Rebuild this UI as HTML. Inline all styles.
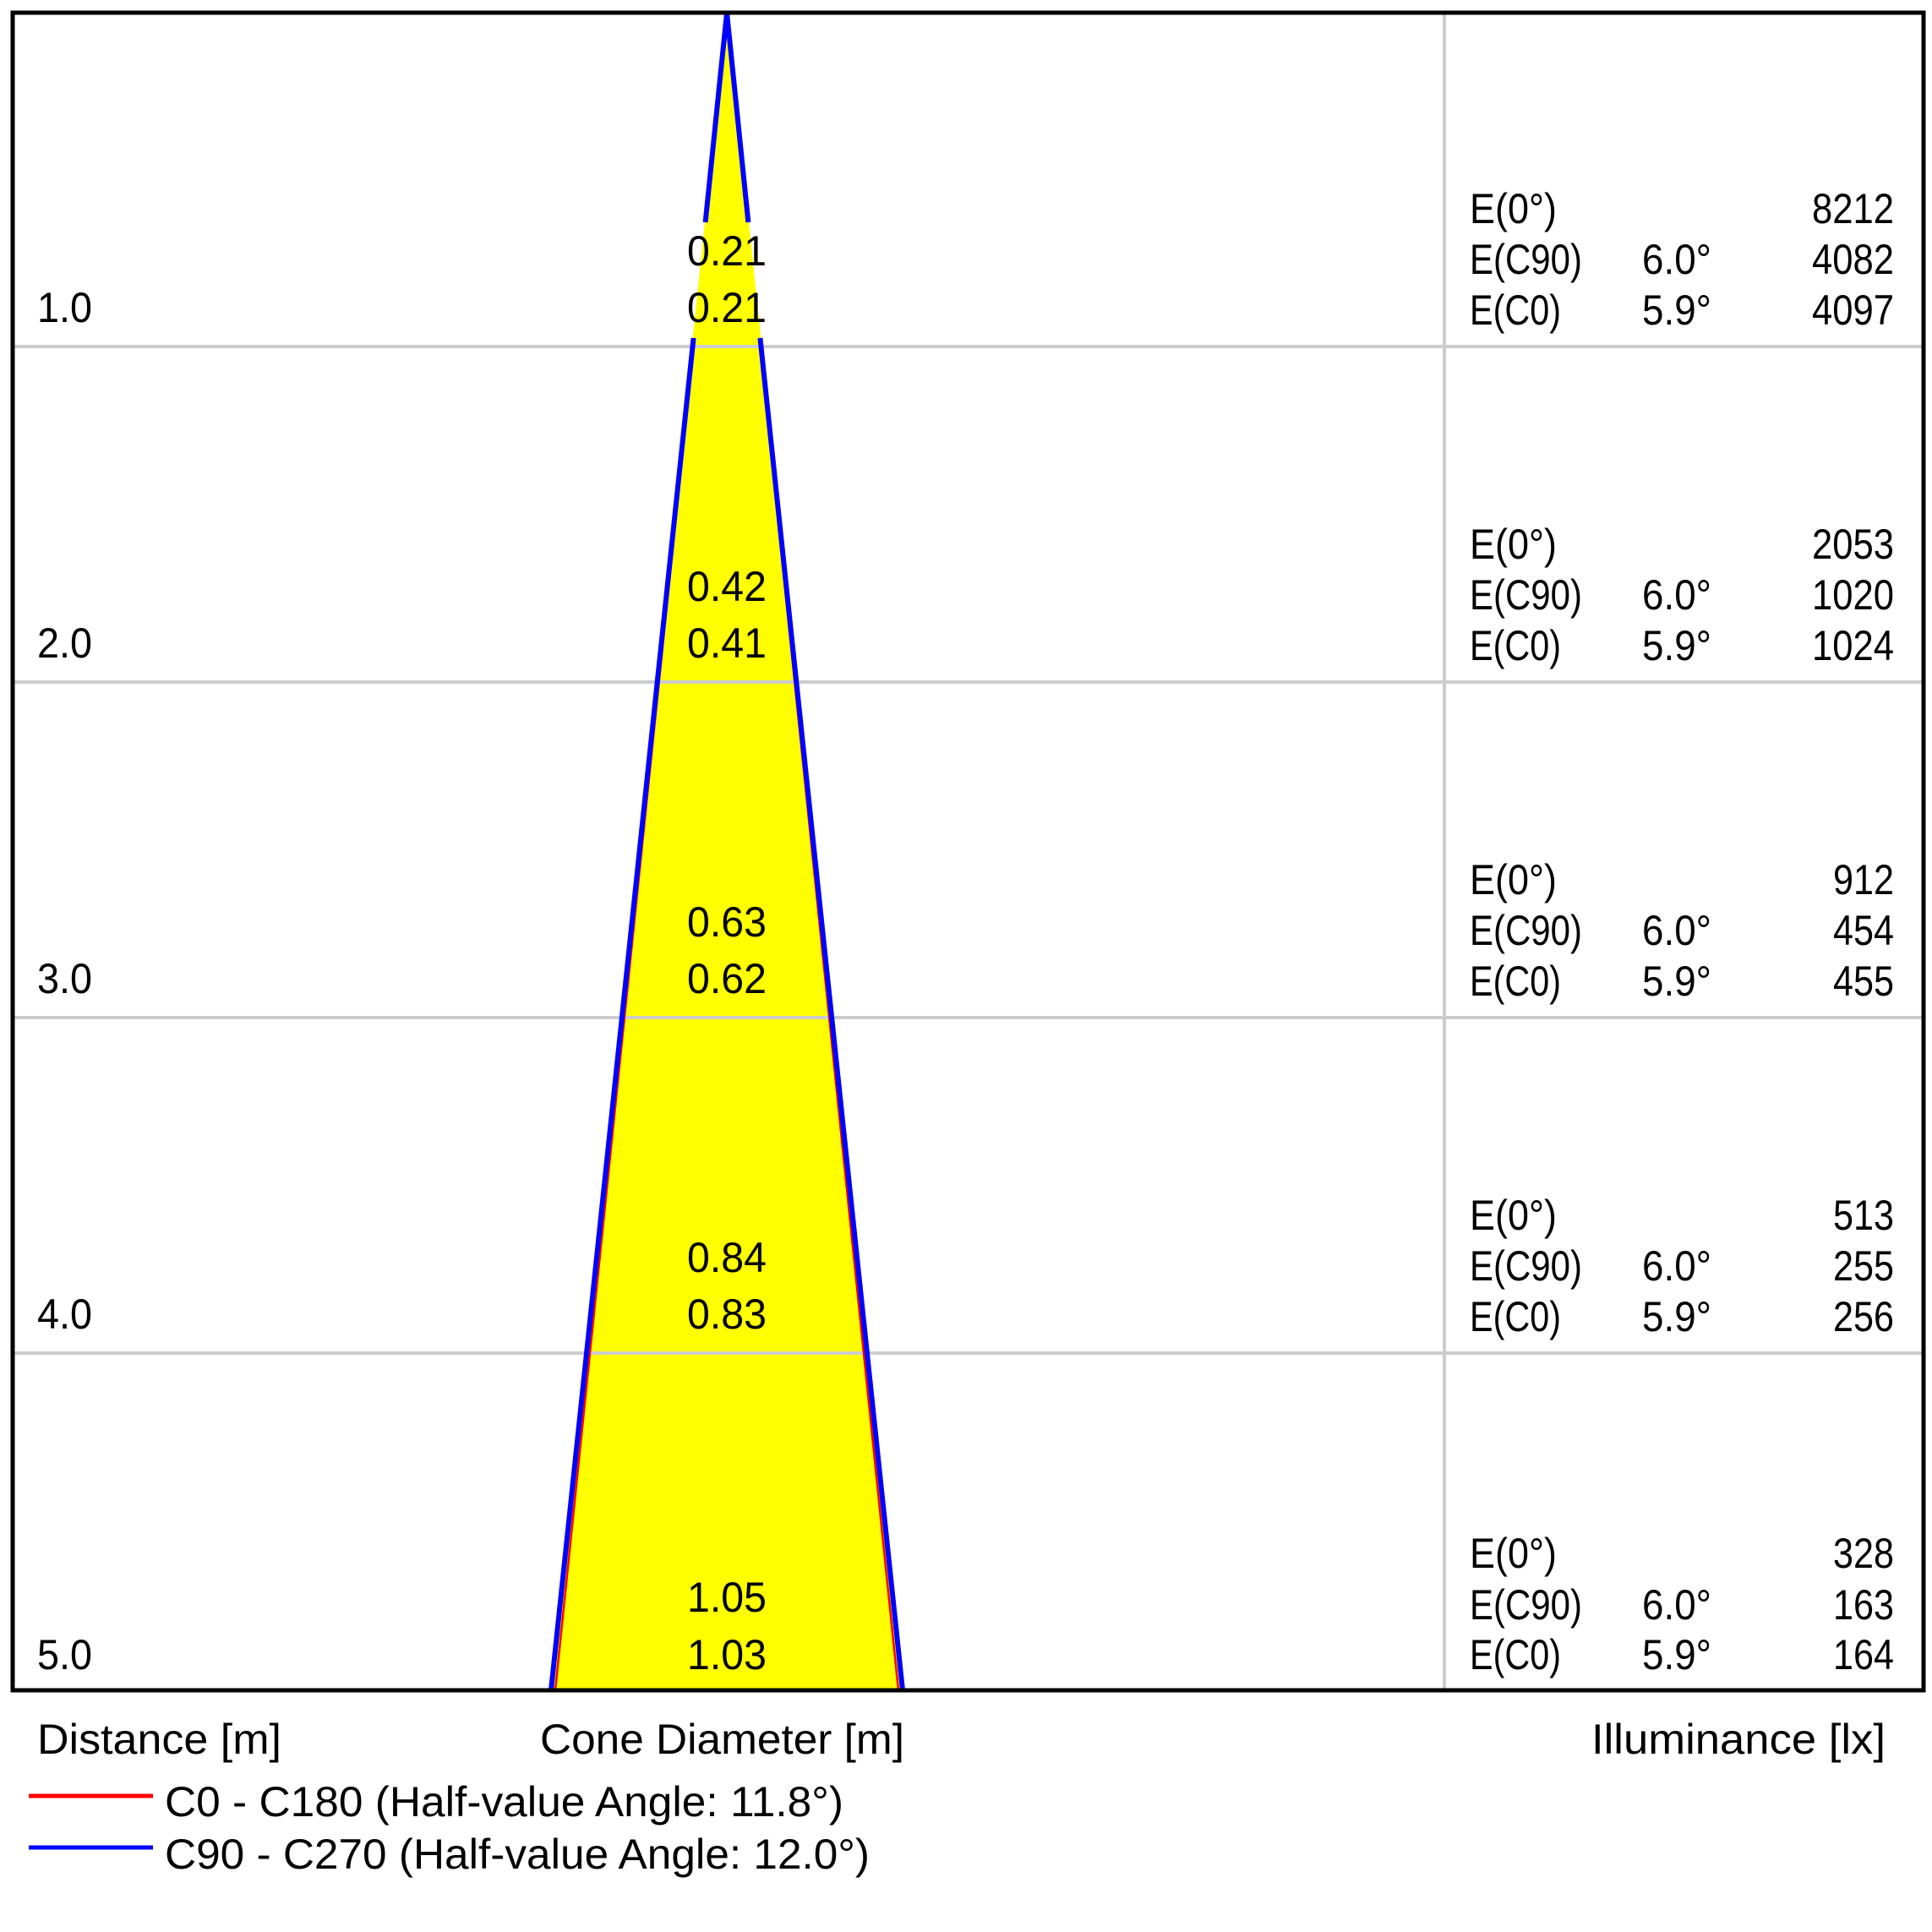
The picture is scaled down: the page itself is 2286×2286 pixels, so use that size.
<!DOCTYPE html>
<html><head><meta charset="utf-8"><style>
html,body{margin:0;padding:0;background:#fff;}
svg{display:block;}
text{font-family:"Liberation Sans",sans-serif;font-size:50px;fill:#000;}
</style></head><body>
<svg width="2286" height="2286" viewBox="0 0 2286 2286" xmlns="http://www.w3.org/2000/svg">
<rect width="2286" height="2286" fill="#fff"/>
<polygon points="860,15 652,2000 1068,2000" fill="#ffff00"/>
<g stroke="#cccccc" stroke-width="4">
<line x1="15" y1="410" x2="2276" y2="410"/>
<line x1="15" y1="807" x2="2276" y2="807"/>
<line x1="15" y1="1204" x2="2276" y2="1204"/>
<line x1="15" y1="1601" x2="2276" y2="1601"/>
<line x1="1709" y1="15" x2="1709" y2="2000"/>
</g>
<g fill="none">
<g stroke="#ff0000" stroke-width="2.5">
<line x1="821.6" y1="400" x2="657" y2="2000"/>
<line x1="898.4" y1="400" x2="1063" y2="2000"/>
</g>
<g stroke="#0000ff" stroke-width="6">
<line x1="860" y1="15" x2="834.6" y2="263"/>
<line x1="820.6" y1="400" x2="652" y2="2000"/>
<line x1="860" y1="15" x2="885.4" y2="263"/>
<line x1="899.4" y1="400" x2="1068" y2="2000"/>
</g>
</g>
<rect x="15" y="15" width="2261" height="1985" fill="none" stroke="#000" stroke-width="5"/>
<g text-anchor="middle">
<text x="860" y="314" textLength="94" lengthAdjust="spacingAndGlyphs">0.21</text>
<text x="860" y="381" textLength="94" lengthAdjust="spacingAndGlyphs">0.21</text>
<text x="860" y="711" textLength="94" lengthAdjust="spacingAndGlyphs">0.42</text>
<text x="860" y="778" textLength="94" lengthAdjust="spacingAndGlyphs">0.41</text>
<text x="860" y="1108" textLength="94" lengthAdjust="spacingAndGlyphs">0.63</text>
<text x="860" y="1175" textLength="94" lengthAdjust="spacingAndGlyphs">0.62</text>
<text x="860" y="1505" textLength="94" lengthAdjust="spacingAndGlyphs">0.84</text>
<text x="860" y="1572" textLength="94" lengthAdjust="spacingAndGlyphs">0.83</text>
<text x="860" y="1907" textLength="94" lengthAdjust="spacingAndGlyphs">1.05</text>
<text x="860" y="1975" textLength="94" lengthAdjust="spacingAndGlyphs">1.03</text>
</g>
<g>
<text x="44" y="381" textLength="65" lengthAdjust="spacingAndGlyphs">1.0</text>
<text x="44" y="778" textLength="65" lengthAdjust="spacingAndGlyphs">2.0</text>
<text x="44" y="1175" textLength="65" lengthAdjust="spacingAndGlyphs">3.0</text>
<text x="44" y="1572" textLength="65" lengthAdjust="spacingAndGlyphs">4.0</text>
<text x="44" y="1975" textLength="65" lengthAdjust="spacingAndGlyphs">5.0</text>
</g>
<g>
<text x="1739" y="264" textLength="103" lengthAdjust="spacingAndGlyphs">E(0°)</text>
<text x="1739" y="324" textLength="133" lengthAdjust="spacingAndGlyphs">E(C90)</text>
<text x="1739" y="384" textLength="108" lengthAdjust="spacingAndGlyphs">E(C0)</text>
<text x="1943" y="324" textLength="82" lengthAdjust="spacingAndGlyphs">6.0°</text>
<text x="1943" y="384" textLength="82" lengthAdjust="spacingAndGlyphs">5.9°</text>
<text x="1739" y="661" textLength="103" lengthAdjust="spacingAndGlyphs">E(0°)</text>
<text x="1739" y="721" textLength="133" lengthAdjust="spacingAndGlyphs">E(C90)</text>
<text x="1739" y="781" textLength="108" lengthAdjust="spacingAndGlyphs">E(C0)</text>
<text x="1943" y="721" textLength="82" lengthAdjust="spacingAndGlyphs">6.0°</text>
<text x="1943" y="781" textLength="82" lengthAdjust="spacingAndGlyphs">5.9°</text>
<text x="1739" y="1058" textLength="103" lengthAdjust="spacingAndGlyphs">E(0°)</text>
<text x="1739" y="1118" textLength="133" lengthAdjust="spacingAndGlyphs">E(C90)</text>
<text x="1739" y="1178" textLength="108" lengthAdjust="spacingAndGlyphs">E(C0)</text>
<text x="1943" y="1118" textLength="82" lengthAdjust="spacingAndGlyphs">6.0°</text>
<text x="1943" y="1178" textLength="82" lengthAdjust="spacingAndGlyphs">5.9°</text>
<text x="1739" y="1455" textLength="103" lengthAdjust="spacingAndGlyphs">E(0°)</text>
<text x="1739" y="1515" textLength="133" lengthAdjust="spacingAndGlyphs">E(C90)</text>
<text x="1739" y="1575" textLength="108" lengthAdjust="spacingAndGlyphs">E(C0)</text>
<text x="1943" y="1515" textLength="82" lengthAdjust="spacingAndGlyphs">6.0°</text>
<text x="1943" y="1575" textLength="82" lengthAdjust="spacingAndGlyphs">5.9°</text>
<text x="1739" y="1855" textLength="103" lengthAdjust="spacingAndGlyphs">E(0°)</text>
<text x="1739" y="1916" textLength="133" lengthAdjust="spacingAndGlyphs">E(C90)</text>
<text x="1739" y="1975" textLength="108" lengthAdjust="spacingAndGlyphs">E(C0)</text>
<text x="1943" y="1916" textLength="82" lengthAdjust="spacingAndGlyphs">6.0°</text>
<text x="1943" y="1975" textLength="82" lengthAdjust="spacingAndGlyphs">5.9°</text>
</g>
<g text-anchor="end">
<text x="2241" y="264" textLength="97" lengthAdjust="spacingAndGlyphs">8212</text>
<text x="2241" y="324" textLength="97" lengthAdjust="spacingAndGlyphs">4082</text>
<text x="2241" y="384" textLength="97" lengthAdjust="spacingAndGlyphs">4097</text>
<text x="2241" y="661" textLength="97" lengthAdjust="spacingAndGlyphs">2053</text>
<text x="2241" y="721" textLength="97" lengthAdjust="spacingAndGlyphs">1020</text>
<text x="2241" y="781" textLength="97" lengthAdjust="spacingAndGlyphs">1024</text>
<text x="2241" y="1058" textLength="72" lengthAdjust="spacingAndGlyphs">912</text>
<text x="2241" y="1118" textLength="72" lengthAdjust="spacingAndGlyphs">454</text>
<text x="2241" y="1178" textLength="72" lengthAdjust="spacingAndGlyphs">455</text>
<text x="2241" y="1455" textLength="72" lengthAdjust="spacingAndGlyphs">513</text>
<text x="2241" y="1515" textLength="72" lengthAdjust="spacingAndGlyphs">255</text>
<text x="2241" y="1575" textLength="72" lengthAdjust="spacingAndGlyphs">256</text>
<text x="2241" y="1855" textLength="72" lengthAdjust="spacingAndGlyphs">328</text>
<text x="2241" y="1916" textLength="72" lengthAdjust="spacingAndGlyphs">163</text>
<text x="2241" y="1975" textLength="72" lengthAdjust="spacingAndGlyphs">164</text>
</g>
<text x="44" y="2075" textLength="289" lengthAdjust="spacingAndGlyphs">Distance [m]</text>
<text x="639" y="2075" textLength="431" lengthAdjust="spacingAndGlyphs">Cone Diameter [m]</text>
<text x="1883" y="2075" textLength="348" lengthAdjust="spacingAndGlyphs">Illuminance [lx]</text>
<line x1="34" y1="2125" x2="181" y2="2125" stroke="#ff0000" stroke-width="5"/>
<line x1="34" y1="2186" x2="181" y2="2186" stroke="#0000ff" stroke-width="5"/>
<text x="195" y="2149" textLength="803" lengthAdjust="spacingAndGlyphs">C0 - C180 (Half-value Angle: 11.8°)</text>
<text x="195" y="2211" textLength="834" lengthAdjust="spacingAndGlyphs">C90 - C270 (Half-value Angle: 12.0°)</text>
</svg>
</body></html>
